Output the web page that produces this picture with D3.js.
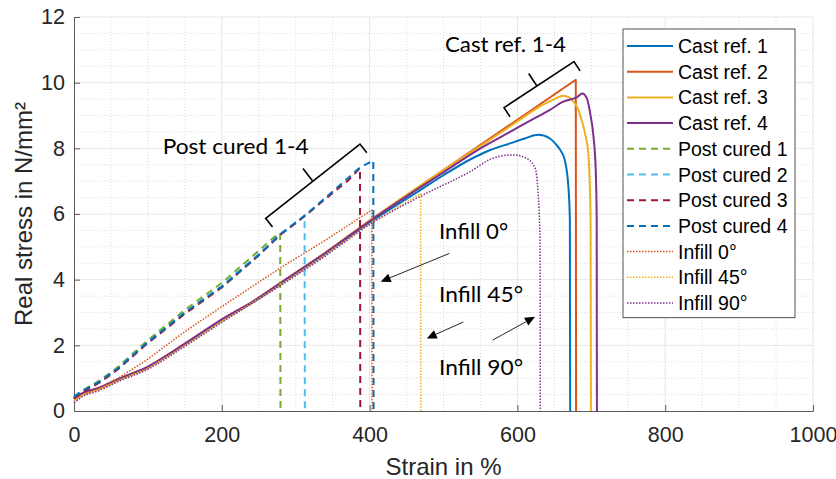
<!DOCTYPE html>
<html>
<head>
<meta charset="utf-8">
<script src="https://cdn.jsdelivr.net/npm/d3@7"></script>
<style>
  body { margin: 0; background: #fff; }
  text { font-family: "Liberation Sans", Arial, sans-serif; }
</style>
</head>
<body>
<script>
// strain in %, real stress in N/mm²
const castRef1 = [[0,0.36],[10,0.5],[35,0.69],[60,0.95],[98,1.3],[152,2.06],[200,2.76],[243,3.32],[280,3.88],[340,4.78],[400,5.74],[468,6.72],[500,7.18],[536,7.66],[560,7.92],[590,8.15],[610,8.3],[628,8.41],[644,8.3],[651,8.15],[658,7.95],[664,7.65],[669,6.83],[671,5.82],[671.4,0]];
const castRef2 = [[0,0.35],[10,0.5],[35,0.69],[60,0.96],[98,1.31],[152,2.07],[200,2.78],[243,3.34],[280,3.9],[340,4.82],[400,5.8],[500,7.34],[600,8.87],[679,10.09],[679.4,0]];
const castRef3 = [[0,0.35],[10,0.5],[35,0.7],[60,0.96],[98,1.31],[152,2.07],[200,2.77],[243,3.33],[280,3.9],[340,4.82],[400,5.8],[500,7.34],[560,8.22],[600,8.82],[630,9.27],[650,9.5],[662,9.6],[670,9.55],[676,9.42],[682,9.2],[687,8.86],[692,8.4],[696,7.85],[699,5.82],[699.5,0]];
const castRef4 = [[0,0.38],[10,0.53],[35,0.72],[60,0.98],[98,1.33],[152,2.08],[200,2.79],[243,3.35],[280,3.91],[340,4.81],[400,5.78],[500,7.27],[550,8.0],[590,8.5],[626,8.95],[644,9.17],[662,9.42],[680,9.55],[688,9.67],[694,9.52],[699,9.0],[703,8.35],[706,7.34],[707.3,5.82],[707.6,0]];
const postCured1 = [[0,0.42],[10,0.6],[35,0.93],[60,1.35],[98,2.12],[150,3.08],[200,3.9],[250,4.88],[270,5.28],[279,5.42],[279.4,0]];
const postCured2 = [[0,0.4],[10,0.57],[35,0.89],[60,1.3],[98,2.06],[150,3.0],[200,3.8],[250,4.78],[279,5.38],[300,5.72],[312,5.95],[312.4,0]];
const postCured3 = [[0,0.38],[10,0.55],[35,0.87],[60,1.28],[98,2.03],[150,2.96],[200,3.76],[250,4.74],[279,5.36],[312,5.93],[351,6.66],[370,7.0],[387,7.4],[387.4,0]];
const postCured4 = [[0,0.43],[10,0.6],[35,0.9],[60,1.31],[98,2.06],[150,3.0],[200,3.79],[250,4.75],[279,5.38],[312,5.95],[351,6.7],[387,7.42],[405,7.63],[405.4,0]];
const infill0 = [[0,0.3],[10,0.46],[35,0.7],[60,1.0],[98,1.55],[150,2.42],[200,3.18],[280,4.37],[340,5.2],[403,6.12],[403.4,0]];
const infill45 = [[0,0.3],[10,0.46],[35,0.66],[60,0.92],[98,1.27],[152,2.02],[200,2.72],[280,3.85],[340,4.76],[400,5.7],[469,6.62],[469.4,0]];
const infill90 = [[0,0.25],[10,0.42],[35,0.63],[60,0.9],[98,1.25],[152,2.0],[200,2.7],[280,3.83],[340,4.72],[400,5.68],[468,6.53],[536,7.29],[567,7.7],[594,7.8],[612,7.7],[624,7.39],[628,6.63],[630.6,5.2],[631,0]];

const seriesNames = ['Cast ref. 1','Cast ref. 2','Cast ref. 3','Cast ref. 4','Post cured 1','Post cured 2','Post cured 3','Post cured 4','Infill 0°','Infill 45°','Infill 90°'];
const seriesData = [castRef1, castRef2, castRef3, castRef4, postCured1, postCured2, postCured3, postCured4, infill0, infill45, infill90];
const seriesColors = ['#0072BD','#D95319','#EDB120','#7E2F8E','#77AC30','#4DBEEE','#A2142F','#0072BD','#D95319','#EDB120','#7E2F8E'];
const seriesStyles = ['solid','solid','solid','solid','dash','dash','dash','dash','dot','dot','dot'];
// rounded tops get a smooth curve, sharp breaks stay straight
const seriesSmooth = [true, false, true, true, false, false, false, false, false, false, true];

const xTicks = [0, 200, 400, 600, 800, 1000];
const yTicks = [0, 2, 4, 6, 8, 10, 12];

const width = 836, height = 479;
const margin = {left: 74, right: 23, top: 17, bottom: 68};

const svg = d3.select('body').append('svg')
  .attr('width', width)
  .attr('height', height);

const x = d3.scaleLinear().domain([0, 1000]).range([margin.left, width - margin.right]);
const y = d3.scaleLinear().domain([0, 12]).range([height - margin.bottom, margin.top]);

// grid, minor dotted then major solid
const grid = svg.append('g');
grid.selectAll('.xminor').data(d3.range(50, 1001, 50).filter(v => v % 200 != 0))
  .enter().append('line')
  .attr('x1', d => x(d)).attr('x2', d => x(d))
  .attr('y1', y(0)).attr('y2', y(12))
  .attr('stroke', '#dcdcdc').attr('stroke-dasharray', '1,2');
grid.selectAll('.yminor').data(d3.range(0.5, 12.01, 0.5).filter(v => v % 2 != 0))
  .enter().append('line')
  .attr('x1', x(0)).attr('x2', x(1000))
  .attr('y1', d => y(d)).attr('y2', d => y(d))
  .attr('stroke', '#dcdcdc').attr('stroke-dasharray', '1,2');
grid.selectAll('.xmajor').data(xTicks.slice(1))
  .enter().append('line')
  .attr('x1', d => x(d)).attr('x2', d => x(d))
  .attr('y1', y(0)).attr('y2', y(12))
  .attr('stroke', '#e6e6e6');
grid.selectAll('.ymajor').data(yTicks.slice(1))
  .enter().append('line')
  .attr('x1', x(0)).attr('x2', x(1000))
  .attr('y1', d => y(d)).attr('y2', d => y(d))
  .attr('stroke', '#e6e6e6');

// axes
const xAxis = svg.append('g')
  .attr('transform', `translate(0,${y(0)})`)
  .call(d3.axisBottom(x).tickValues(xTicks).tickFormat(d3.format('d'))
    .tickSizeInner(-6).tickSizeOuter(0).tickPadding(16));
const yAxis = svg.append('g')
  .attr('transform', `translate(${x(0)},0)`)
  .call(d3.axisLeft(y).tickValues(yTicks).tickSizeInner(-6).tickSizeOuter(0).tickPadding(9));
[xAxis, yAxis].forEach(a => {
  a.select('.domain').attr('stroke', '#5a5a5a');
  a.selectAll('.tick line').attr('stroke', '#5a5a5a');
  a.selectAll('.tick text').attr('fill', '#262626').style('font-size', '21.5px')
    .style('font-family', '"Liberation Sans", Arial, sans-serif');
});

svg.append('text')
  .text('Strain in %')
  .attr('x', x(500)).attr('y', 475)
  .attr('text-anchor', 'middle')
  .attr('fill', '#262626')
  .style('font-size', '24px');
svg.append('text')
  .text('Real stress in N/mm²')
  .attr('transform', `translate(32,${y(6)}) rotate(-90)`)
  .attr('text-anchor', 'middle')
  .attr('fill', '#262626')
  .style('font-size', '24px');

const dashFor = s => s == 'dash' ? '7,5' : (s == 'dot' ? '1.5,1.5' : null);
const widthFor = s => s == 'dot' ? 1.5 : 2;

const smoothLine = d3.line()
  .x(d => x(d[0]))
  .y(d => y(d[1]))
  .curve(d3.curveMonotoneX);
const straightLine = d3.line()
  .x(d => x(d[0]))
  .y(d => y(d[1]));

seriesData.forEach((data, i) => {
  svg.append('path')
    .datum(data)
    .attr('d', seriesSmooth[i] ? smoothLine : straightLine)
    .attr('fill', 'none')
    .attr('stroke', seriesColors[i])
    .attr('stroke-width', widthFor(seriesStyles[i]))
    .attr('stroke-linejoin', 'round')
    .attr('stroke-dasharray', dashFor(seriesStyles[i]));
});

// annotations (drawn like the slide overlay)
const annot = svg.append('g');

function bracket(p0, p1, t, hook, stem) {
  const a = [x(p0[0]), y(p0[1])], b = [x(p1[0]), y(p1[1])];
  const len = Math.hypot(b[0] - a[0], b[1] - a[1]);
  const ux = (b[0] - a[0]) / len, uy = (b[1] - a[1]) / len;
  const nx = -uy, ny = ux; // points down-right, toward the curves
  const m = [a[0] + (b[0] - a[0]) * t, a[1] + (b[1] - a[1]) * t];
  annot.append('path')
    .attr('d', `M${a[0] + nx * hook},${a[1] + ny * hook}L${a[0]},${a[1]}L${b[0]},${b[1]}L${b[0] + nx * hook},${b[1] + ny * hook}` +
      `M${m[0]},${m[1]}L${m[0] - nx * stem},${m[1] - ny * stem}`)
    .attr('fill', 'none')
    .attr('stroke', '#000')
    .attr('stroke-width', 1.6);
}
bracket([581.9, 9.24], [676.6, 10.64], 0.47, 11, 15);
bracket([259.4, 5.87], [387.0, 8.13], 0.5, 11, 16);

const labels = [
  {text: 'Cast ref. 1-4', sx: 502, sy: 10.93, w: 121},
  {text: 'Post cured 1-4', sx: 120, sy: 7.83, w: 146},
  {text: 'Infill 0°', sx: 494, sy: 5.24, w: 69},
  {text: 'Infill 45°', sx: 494, sy: 3.33, w: 84},
  {text: 'Infill 90°', sx: 494, sy: 1.10, w: 84}
];
labels.forEach(l => {
  annot.append('text')
    .text(l.text)
    .attr('x', x(l.sx)).attr('y', y(l.sy))
    .attr('textLength', l.w)
    .attr('lengthAdjust', 'spacingAndGlyphs')
    .attr('fill', '#000')
    .style('font-family', 'Lato, "Open Sans", sans-serif')
    .style('font-weight', '400')
    .style('font-size', '22px');
});

const arrows = [
  [[508, 4.80], [415, 3.94]],
  [[526.8, 2.71], [477.3, 2.21]],
  [[566.6, 2.16], [623.8, 2.87]]
];
arrows.forEach(a => {
  const p0 = [x(a[0][0]), y(a[0][1])], p1 = [x(a[1][0]), y(a[1][1])];
  const len = Math.hypot(p1[0] - p0[0], p1[1] - p0[1]);
  const ux = (p1[0] - p0[0]) / len, uy = (p1[1] - p0[1]) / len;
  const hl = 10, hw = 4.5;
  const base = [p1[0] - ux * hl, p1[1] - uy * hl];
  annot.append('line')
    .attr('x1', p0[0]).attr('y1', p0[1])
    .attr('x2', base[0]).attr('y2', base[1])
    .attr('stroke', '#262626').attr('stroke-width', 1);
  annot.append('path')
    .attr('d', `M${p1[0]},${p1[1]}L${base[0] - uy * hw},${base[1] + ux * hw}L${base[0] + uy * hw},${base[1] - ux * hw}Z`)
    .attr('fill', '#000');
});

// legend
const legend = svg.append('g').attr('transform', 'translate(623,29)');
const rowH = 25.7;
legend.append('rect')
  .attr('x', 0).attr('y', 0)
  .attr('width', 172).attr('height', seriesNames.length * rowH + 6)
  .attr('fill', '#fff')
  .attr('stroke', '#262626')
  .attr('stroke-width', 0.8);
const rows = legend.selectAll('.row').data(seriesNames)
  .enter().append('g')
  .attr('transform', (d, i) => `translate(0,${17 + i * rowH})`);
rows.append('line')
  .attr('x1', 4).attr('x2', 50)
  .attr('stroke', (d, i) => seriesColors[i])
  .attr('stroke-width', (d, i) => widthFor(seriesStyles[i]))
  .attr('stroke-dasharray', (d, i) => dashFor(seriesStyles[i]));
rows.append('text')
  .text(d => d)
  .attr('x', 55).attr('y', 7)
  .attr('fill', '#000')
  .style('font-size', '19.5px');
</script>
</body>
</html>
